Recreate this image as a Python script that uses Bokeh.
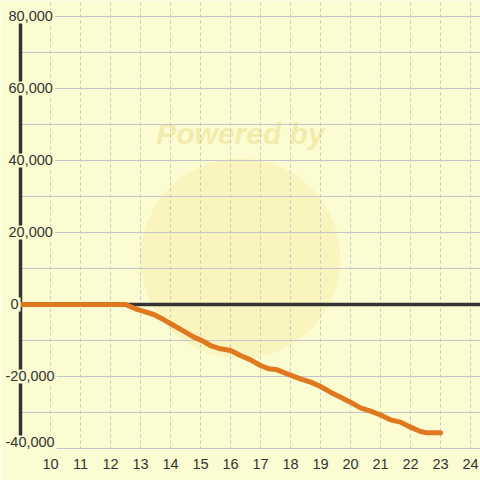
from bokeh.plotting import figure
from bokeh.models import Label, FixedTicker, Range1d
from bokeh.core.properties import value
from bokeh.embed import file_html
from bokeh.resources import INLINE

# ---- data ----
x_vals = [9, 12.5, 12.83, 13.11, 13.44, 13.78, 14.11, 14.44, 14.78, 15.11, 15.33,
          15.67, 16.0, 16.33, 16.67, 17.0, 17.28, 17.56, 17.89, 18.33, 18.67, 19.0,
          19.33, 19.67, 20.0, 20.33, 20.67, 21.0, 21.33, 21.67, 22.0, 22.33, 22.56, 23.0]
y_vals = [0, 0, -1200, -1940, -2780, -4260, -5830, -7410, -9070, -10280, -11390,
          -12310, -12780, -14170, -15370, -16940, -17870, -18150, -19260, -20650, -21570, -22780,
          -24350, -25740, -27130, -28700, -29630, -30700, -32040, -32690, -34070, -35280, -35650, -35650]
x_ticks = [10, 11, 12, 13, 14, 15, 16, 17, 18, 19, 20, 21, 22, 23, 24]
y_grid_ticks = [-40000, -30000, -20000, -10000, 0, 10000, 20000, 30000, 40000, 50000, 60000, 70000, 80000]
y_label_ticks = [-40000, -20000, 0, 20000, 40000, 60000, 80000]
y_label_texts = ["-40,000", "-20,000", "0", "20,000", "40,000", "60,000", "80,000"]

# styling / placement (not data)
label_dx = [-17, -17, -12, -14, -14, -14, -14]
label_dy = [-6, 0, 0, 0, 0, 0, 0]
axis_x = 9
zero_y = 0
x_start, x_end = 8.333, 24.333
y_start, y_end = -40278, 84444

BG = "#fcfcd2"
FONT = "Liberation Sans"
TXT = "#333333"

p = figure(width=480, height=480, output_backend="svg", toolbar_location=None,
           x_range=Range1d(x_start, x_end), y_range=Range1d(y_start, y_end),
           min_border_left=0, min_border_right=0, min_border_top=0, min_border_bottom=31,
           background_fill_color=BG, border_fill_color=BG, outline_line_color=None)

p.yaxis.visible = False
p.xaxis.ticker = FixedTicker(ticks=x_ticks)
p.xaxis.axis_line_color = None
p.xaxis.major_tick_line_color = None
p.xaxis.minor_tick_line_color = None
p.xaxis.major_label_text_font = FONT
p.xaxis.major_label_text_font_size = "14.5px"
p.xaxis.major_label_text_color = TXT
p.xaxis.major_label_standoff = 3

p.xgrid.ticker = FixedTicker(ticks=x_ticks)
p.xgrid.grid_line_color = "#c4c4c4"
p.xgrid.grid_line_dash = "3 3"
p.xgrid.grid_line_width = 1
p.ygrid.ticker = FixedTicker(ticks=y_grid_ticks)
p.ygrid.grid_line_color = "#c4c4cc"
p.ygrid.grid_line_width = 1.2
try:
    p.ygrid.cross_bounds = (axis_x, x_end)
except Exception:
    pass

# watermark
wm = Label(x=16.33, y=47500, text="Powered by", text_align="center", text_baseline="middle",
           text_font=FONT, text_font_size="30px", text_font_style="bold italic",
           text_color="#f1e9a6", text_alpha=0.85, level="image")
p.add_layout(wm)
circ = p.scatter(x=[16.33], y=[12780], size=200, fill_color="#f8eba6", fill_alpha=0.45,
                 line_color=None)
circ.level = "image"

# axis lines
p.segment(x0=[axis_x], y0=[y_grid_ticks[0]], x1=[axis_x], y1=[y_grid_ticks[-1]],
          line_color="#333333", line_width=3.5)
p.ray(x=[axis_x], y=[zero_y], length=0, angle=0, line_color="#333333", line_width=3.5)

# data line
p.line(x_vals, y_vals, line_color="#e0781f", line_width=5, line_join="round", line_cap="round")

# y labels
p.text(x=[axis_x] * len(y_label_ticks), y=y_label_ticks, text=y_label_texts,
       x_offset=label_dx, y_offset=label_dy, text_align="left", text_baseline="middle",
       text_font=value(FONT), text_font_size="14.5px", text_color=TXT,
       background_fill_color=BG, padding=2)

open("out.html", "w").write(file_html(p, INLINE))
